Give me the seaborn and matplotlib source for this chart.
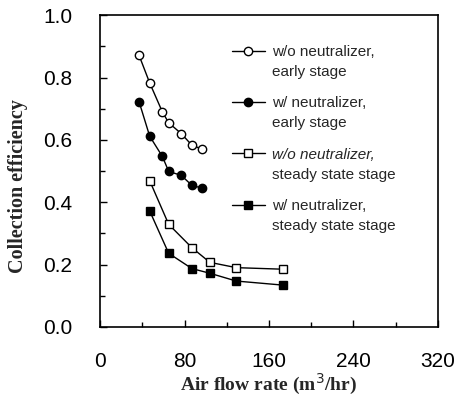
import numpy as np
import pandas as pd
import seaborn as sns
import matplotlib.pyplot as plt
from matplotlib.ticker import MultipleLocator

# data
x_early = [37, 47, 59, 65, 77, 87, 97]
wo_early = [0.871, 0.783, 0.690, 0.655, 0.620, 0.583, 0.570]
w_early = [0.722, 0.612, 0.547, 0.499, 0.486, 0.454, 0.445]

x_steady = [47, 65, 87, 104, 129, 173]
wo_steady = [0.469, 0.329, 0.254, 0.207, 0.190, 0.185]
w_steady = [0.372, 0.236, 0.187, 0.172, 0.147, 0.134]

first_lines = ['w/o neutralizer,', 'w/ neutralizer,',
               'w/o neutralizer,', 'w/ neutralizer,']
second_lines = ['early stage', 'early stage',
                'steady state stage', 'steady state stage']

sns.set_style("ticks")
plt.rcParams['font.family'] = ['Liberation Sans', 'DejaVu Sans']

fig = plt.figure(figsize=(4.57, 4.03), dpi=100)
ax = fig.add_axes([0.219, 0.189, 0.739, 0.773])

series = [(x_early, wo_early, 'o', 'white'),
          (x_early, w_early, 'o', 'black'),
          (x_steady, wo_steady, 's', 'white'),
          (x_steady, w_steady, 's', 'black')]

for (xs, ys, mk, fc), lab in zip(series, first_lines):
    df = pd.DataFrame({'x': xs, 'y': ys})
    sns.lineplot(data=df, x='x', y='y', ax=ax, color='black', lw=1.0,
                 marker=mk, markersize=6, markerfacecolor=fc,
                 markeredgecolor='black', markeredgewidth=1.0, label=lab)

ax.set_xlim(0, 320)
ax.set_ylim(0, 1.0)
ax.xaxis.set_major_locator(MultipleLocator(80))
ax.xaxis.set_minor_locator(MultipleLocator(40))
ax.yaxis.set_major_locator(MultipleLocator(0.2))
ax.yaxis.set_minor_locator(MultipleLocator(0.1))
ax.set_yticklabels([f'{v:.1f}' for v in ax.get_yticks()])
ax.tick_params(which='major', direction='in', length=5, width=1, colors='black')
ax.tick_params(which='minor', direction='in', length=3.5, width=1, colors='black')
ax.tick_params(axis='both', which='major', labelsize=15)
ax.tick_params(axis='y', which='major', pad=20)
ax.tick_params(axis='x', which='major', pad=18)
for s in ax.spines.values():
    s.set_visible(True)
    s.set_linewidth(1.2)
    s.set_color('black')

ax.set_xlabel('Air flow rate (m$^3$/hr)', fontsize=14, fontweight='bold',
              family='Liberation Serif')
ax.set_ylabel('Collection efficiency', fontsize=14.5, fontweight='bold',
              family='Liberation Serif')
ax.xaxis.set_label_coords(0.5, -0.145)
ax.yaxis.set_label_coords(-0.213, 0.452)

leg = ax.legend(loc='upper left', bbox_to_anchor=(0.39, 0.905), frameon=False,
                fontsize=11, handlelength=2.15, handletextpad=0.45,
                labelspacing=2.45, borderpad=0, borderaxespad=0)
texts = leg.get_texts()
texts[2].set_fontstyle('italic')
# second line of each legend label, hung under the first line
for t, line2 in zip(texts, second_lines):
    ax.annotate(line2, xy=(0, 1), xycoords=t, xytext=(0, -14.5),
                textcoords='offset points', ha='left', va='top', fontsize=11,
                zorder=10)

fig.savefig('out.png', dpi=100)
